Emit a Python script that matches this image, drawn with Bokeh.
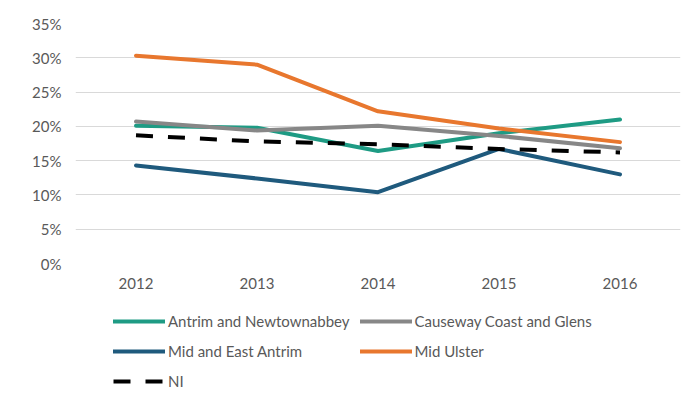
from bokeh.plotting import figure
from bokeh.layouts import column
from bokeh.models import Legend, LegendItem, NumeralTickFormatter, FixedTicker, Range1d
from bokeh.embed import file_html
from bokeh.resources import INLINE

years = ["2012", "2013", "2014", "2015", "2016"]
antrim_newtownabbey = [0.201, 0.198, 0.164, 0.190, 0.210]
causeway_coast_glens = [0.207, 0.194, 0.201, 0.186, 0.168]
mid_east_antrim = [0.143, 0.124, 0.104, 0.167, 0.130]
mid_ulster = [0.303, 0.290, 0.222, 0.197, 0.177]
ni = [0.187, 0.178, 0.174, 0.167, 0.162]
y_ticks = [0, 0.05, 0.10, 0.15, 0.20, 0.25, 0.30, 0.35]

FONT = "Lato"
TXT = "#595959"

p = figure(x_range=years, y_range=Range1d(0, 0.35), width=693, height=300,
           output_backend="svg", toolbar_location=None,
           min_border_left=75, min_border_right=13, min_border_top=23, min_border_bottom=37)
p.outline_line_color = None
p.background_fill_color = "white"
p.border_fill_color = "white"

series = [
    ("Antrim and Newtownabbey", antrim_newtownabbey, "#1e9b84", None),
    ("Causeway Coast and Glens", causeway_coast_glens, "#878787", None),
    ("Mid and East Antrim", mid_east_antrim, "#1f5a7d", None),
    ("Mid Ulster", mid_ulster, "#e8772e", None),
    ("NI", ni, "black", "17 15"),
]

# second figure only holds the legend (its proxy lines lie outside its fixed ranges)
p2 = figure(width=693, height=108, output_backend="svg", toolbar_location=None,
            x_axis_type=None, y_axis_type=None, x_range=Range1d(0, 1), y_range=Range1d(0, 1),
            min_border=0)
p2.outline_line_color = None
p2.border_fill_color = "white"

items = []
for name, vals, col, dash in series:
    kw = dict(line_width=4, line_color=col, line_join="round")
    if dash:
        kw["line_dash"] = dash
    else:
        kw["line_cap"] = "round"
    p.line(years, vals, **kw)
    r2 = p2.line(x=[5, 6], y=[5, 6], **kw)
    items.append(LegendItem(label=name, renderers=[r2]))

p.yaxis.ticker = FixedTicker(ticks=y_ticks)
p.yaxis.formatter = NumeralTickFormatter(format="0%")
for ax in (p.xaxis[0], p.yaxis[0]):
    ax.axis_line_color = None
    ax.major_tick_line_color = None
    ax.minor_tick_line_color = None
    ax.major_label_text_font = FONT
    ax.major_label_text_font_size = "15px"
    ax.major_label_text_color = TXT
p.yaxis.major_label_standoff = 8
p.xaxis.major_label_standoff = 8
p.xgrid.grid_line_color = None
p.ygrid.grid_line_color = "#d9d9d9"
p.ygrid.grid_line_width = 1

legend = Legend(items=items, location=(38, 17), ncols=2, orientation="horizontal",
                glyph_width=52, glyph_height=20, label_standoff=3, spacing=10,
                padding=0, margin=0, border_line_color=None, background_fill_alpha=0,
                label_text_font=FONT, label_text_font_size="15px", label_text_color=TXT)
p2.add_layout(legend, "center")

layout = column(p, p2, spacing=0)
open("out.html", "w").write(file_html(layout, INLINE))
